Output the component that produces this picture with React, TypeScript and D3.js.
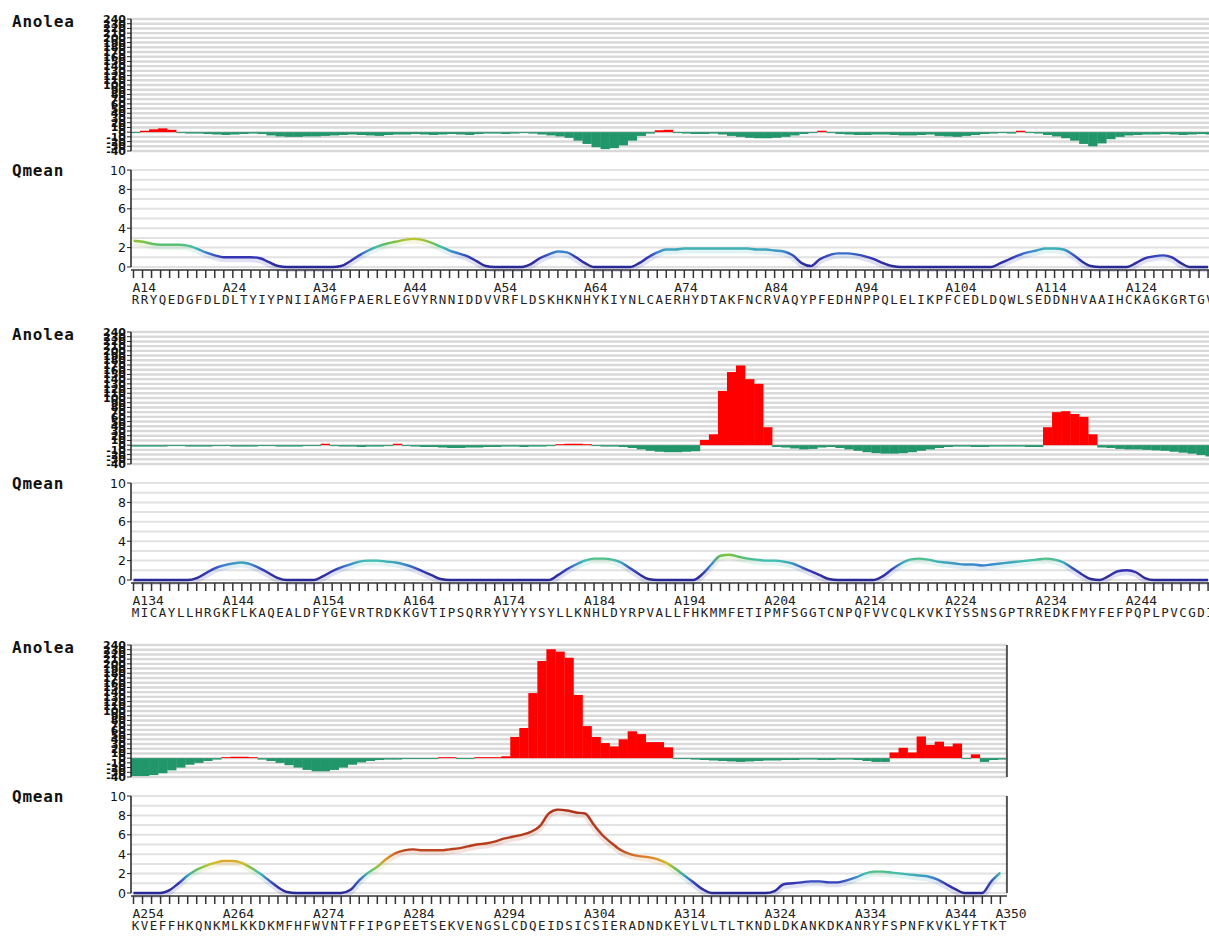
import * as d3 from 'd3';
import React, { useEffect, useRef } from 'react';

// residue number of the first position in each row
const rowStarts = [14, 134, 254];

const seqRow1 = 'RRYQEDGFDLDLTYIYPNIIAMGFPAERLEGVYRNNIDDVVRFLDSKHKNHYKIYNLCAERHYDTAKFNCRVAQYPFEDHNPPQLELIKPFCEDLDQWLSEDDNHVAAIHCKAGKGRTGV';
const seqRow2 = 'MICAYLLHRGKFLKAQEALDFYGEVRTRDKKGVTIPSQRRYVYYYSYLLKNHLDYRPVALLFHKMMFETIPMFSGGTCNPQFVVCQLKVKIYSSNSGPTRREDKFMYFEFPQPLPVCGDI';
const seqRow3 = 'KVEFFHKQNKMLKKDKMFHFWVNTFFIPGPEETSEKVENGSLCDQEIDSICSIERADNDKEYLVLTLTKNDLDKANKDKANRYFSPNFKVKLYFTKT';

// Anolea energy per residue
const anoleaRow1 = [
  -2, 3, 6, 8, 5, -2, -3, -3, -4, -5,
  -6, -5, -4, -3, -4, -7, -9, -10, -10, -9,
  -9, -8, -7, -6, -5, -6, -7, -8, -6, -5,
  -5, -4, -5, -6, -5, -4, -5, -6, -4, -3,
  -3, -4, -3, -2, -3, -5, -7, -9, -12, -18,
  -25, -32, -36, -34, -28, -18, -8, -3, 4, 5,
  -2, -3, -4, -4, -3, -5, -8, -10, -12, -13,
  -13, -12, -10, -7, -4, -2, 3, -2, -4, -5,
  -6, -6, -5, -5, -6, -7, -7, -6, -5, -8,
  -9, -10, -8, -6, -4, -3, -2, -3, 3, -2,
  -3, -6, -9, -13, -18, -25, -30, -24, -15, -10,
  -7, -6, -5, -5, -4, -5, -6, -5, -4, -5,
];
const anoleaRow2 = [
  -3, -3, -3, -3, -2, -2, -3, -3, -3, -2,
  -2, -3, -3, -3, -2, -2, -3, -3, -3, -2,
  -2, 3, -2, -3, -3, -4, -3, -3, -2, 3,
  -2, -3, -4, -4, -5, -6, -6, -5, -5, -4,
  -4, -3, -3, -4, -3, -3, -2, 2, 3, 3,
  2, -2, -3, -3, -4, -6, -9, -12, -14, -15,
  -15, -14, -13, 11, 23, 115, 155, 169, 140, 130,
  38, -4, -5, -7, -9, -8, -5, -4, -6, -9,
  -12, -15, -17, -18, -18, -17, -15, -12, -9, -6,
  -4, -3, -3, -4, -4, -3, -3, -3, -3, -4,
  -4, 38, 70, 72, 66, 60, 23, -5, -6, -8,
  -9, -9, -10, -11, -12, -14, -16, -18, -21, -24,
];
const anoleaRow3 = [
  -38, -38, -36, -32, -26, -20, -14, -10, -6, -3,
  2, 3, 3, 2, -3, -6, -10, -15, -20, -25,
  -28, -28, -25, -20, -14, -9, -6, -4, -3, -3,
  -2, -2, -2, -2, 2, 2, -2, -2, 2, 2,
  2, 4, 45, 64, 138, 206, 231, 226, 213, 134,
  68, 45, 32, 25, 40, 57, 51, 34, 34, 23,
  -2, -2, -3, -4, -5, -6, -7, -8, -7, -6,
  -5, -5, -4, -4, -3, -3, -4, -4, -3, -3,
  -4, -6, -8, -8, 12, 22, 12, 46, 28, 35,
  25, 31, -2, 8, -8, -4, -3,
];

// QMEAN local score per residue
const qmeanRow1 = [
  2.7, 2.6, 2.4, 2.3, 2.3, 2.3, 2.2, 1.9, 1.5, 1.2,
  1.0, 1.0, 1.0, 1.0, 0.9, 0.5, 0.1, 0, 0, 0,
  0, 0, 0, 0.1, 0.6, 1.2, 1.7, 2.1, 2.4, 2.6,
  2.8, 2.9, 2.8, 2.5, 2.1, 1.7, 1.4, 1.1, 0.6, 0.1,
  0, 0, 0, 0, 0.3, 0.9, 1.3, 1.6, 1.5, 1.0,
  0.4, 0, 0, 0, 0, 0, 0.4, 1.0, 1.5, 1.8,
  1.8, 1.9, 1.9, 1.9, 1.9, 1.9, 1.9, 1.9, 1.9, 1.8,
  1.8, 1.7, 1.6, 1.2, 0.4, 0.1, 0.8, 1.2, 1.4, 1.4,
  1.3, 1.1, 0.8, 0.4, 0.1, 0, 0, 0, 0, 0,
  0, 0, 0, 0, 0, 0, 0.4, 0.8, 1.2, 1.5,
  1.7, 1.9, 1.9, 1.8, 1.3, 0.6, 0.1, 0, 0, 0,
  0, 0.4, 0.9, 1.1, 1.2, 1.0, 0.4, 0, 0, 0,
];
const qmeanRow2 = [
  0, 0, 0, 0, 0, 0, 0, 0.2, 0.7, 1.2,
  1.5, 1.7, 1.8, 1.6, 1.2, 0.7, 0.2, 0, 0, 0,
  0, 0.4, 0.9, 1.3, 1.6, 1.9, 2.0, 2.0, 1.9, 1.8,
  1.6, 1.3, 0.9, 0.5, 0.1, 0, 0, 0, 0, 0,
  0, 0, 0, 0, 0, 0, 0, 0.5, 1.1, 1.6,
  2.0, 2.2, 2.2, 2.1, 1.8, 1.2, 0.6, 0.1, 0, 0,
  0, 0, 0, 0.6, 1.6, 2.5, 2.6, 2.4, 2.2, 2.1,
  2.0, 2.0, 1.9, 1.7, 1.3, 0.9, 0.5, 0.1, 0, 0,
  0, 0, 0, 0.4, 1.1, 1.7, 2.1, 2.2, 2.1, 1.9,
  1.8, 1.7, 1.6, 1.6, 1.5, 1.6, 1.7, 1.8, 1.9, 2.0,
  2.1, 2.2, 2.1, 1.8, 1.2, 0.6, 0.1, 0, 0.4, 0.9,
  1.0, 0.8, 0.2, 0, 0, 0, 0, 0, 0, 0,
];
const qmeanRow3 = [
  0, 0, 0, 0, 0.3, 1.0, 1.8, 2.4, 2.8, 3.1,
  3.3, 3.3, 3.1, 2.6, 2.0, 1.3, 0.6, 0.1, 0, 0,
  0, 0, 0, 0, 0.3, 1.3, 2.1, 2.7, 3.5, 4.1,
  4.4, 4.5, 4.4, 4.4, 4.4, 4.5, 4.6, 4.8, 5.0, 5.1,
  5.3, 5.6, 5.8, 6.0, 6.3, 6.9, 8.2, 8.6, 8.5, 8.3,
  8.2, 7.0, 5.9, 5.1, 4.4, 4.0, 3.8, 3.7, 3.5, 3.1,
  2.5, 1.8, 1.1, 0.4, 0, 0, 0, 0, 0, 0,
  0, 0.2, 0.9, 1.0, 1.1, 1.2, 1.2, 1.1, 1.1, 1.3,
  1.6, 2.0, 2.2, 2.2, 2.1, 2.0, 1.9, 1.8, 1.7, 1.4,
  0.9, 0.4, 0, 0, 0, 1.2, 2.1,
];

const anoleaTicks = [240, 230, 220, 210, 200, 190, 180, 170, 160, 150, 140, 130, 120, 110, 100, 90, 80, 70, 60, 50, 40, 30, 20, 10, 0, -10, -20, -30, -40];
const qmeanTicks = [0, 2, 4, 6, 8, 10];
const qmeanGrid = [0, 1, 2, 3, 4, 5, 6, 7, 8, 9, 10];

const rows = [
  { start: rowStarts[0], seq: seqRow1, anolea: anoleaRow1, qmean: qmeanRow1 },
  { start: rowStarts[1], seq: seqRow2, anolea: anoleaRow2, qmean: qmeanRow2 },
  { start: rowStarts[2], seq: seqRow3, anolea: anoleaRow3, qmean: qmeanRow3 },
];

export default function App() {
  const ref = useRef<SVGSVGElement>(null);

  useEffect(() => {
    document.body.style.margin = '0';
    const svg = d3.select(ref.current);
    svg.selectAll('*').remove();

    const step = 9.03;
    const left = 131;
    const rowGap = 313;
    const mono = '"DejaVu Sans Mono", monospace';

    const color = d3.scaleLinear<string>()
      .domain([0, 1, 1.5, 2, 2.5, 3, 3.6, 4.5, 10])
      .range(['#2a2a96', '#3434b4', '#3d7fd0', '#3fbfb0', '#6cc04a', '#d4c62a', '#e08a2a', '#b8401f', '#a8301a']);

    const defs = svg.append('defs');

    rows.forEach((row, r) => {
      const g = svg.append('g').attr('transform', `translate(0,${r * rowGap})`);
      const n = row.seq.length;
      const x = d3.scaleLinear().domain([0, n]).range([left, left + n * step]);
      const px = (i: number) => x(i) + 2.5;
      const right = x(n);
      const yA = d3.scaleLinear().domain([-40, 240]).range([151, 19]);
      const yQ = d3.scaleLinear().domain([0, 10]).range([267, 170]);

      // ---- Anolea ----
      g.append('g').selectAll('line').data(anoleaTicks).join('line')
        .attr('x1', left).attr('x2', right)
        .attr('y1', d => yA(d)).attr('y2', d => yA(d))
        .attr('stroke', '#d9d9d9').attr('stroke-width', 2.4);

      g.append('g').selectAll('rect').data(row.anolea).join('rect')
        .attr('x', (d, i) => x(i))
        .attr('width', step + 0.3)
        .attr('y', d => (d > 0 ? yA(d) : yA(0)))
        .attr('height', d => Math.abs(yA(d) - yA(0)))
        .attr('fill', d => (d > 0 ? '#ff0000' : '#22966b'));

      g.append('line').attr('x1', left).attr('x2', left)
        .attr('y1', yA(240)).attr('y2', yA(-40))
        .attr('stroke', '#222').attr('stroke-width', 1.5);
      g.append('line').attr('x1', right).attr('x2', right)
        .attr('y1', yA(240)).attr('y2', yA(-40))
        .attr('stroke', '#555').attr('stroke-width', 2);

      const at = g.append('g');
      at.selectAll('line').data(anoleaTicks).join('line')
        .attr('x1', left - 4).attr('x2', left)
        .attr('y1', d => yA(d)).attr('y2', d => yA(d))
        .attr('stroke', '#222');
      at.selectAll('text').data(anoleaTicks).join('text')
        .attr('x', left - 5).attr('y', d => yA(d) + 4)
        .attr('text-anchor', 'end')
        .attr('font-family', '"DejaVu Sans", sans-serif')
        .attr('font-size', 11)
        .attr('font-weight', 'bold')
        .attr('fill', '#111')
        .text(d => d);

      g.append('text').attr('x', 12).attr('y', 27)
        .attr('font-family', mono).attr('font-weight', 'bold').attr('font-size', 16)
        .attr('letter-spacing', 0.8)
        .attr('fill', '#111').text('Anolea');

      // ---- Qmean ----
      g.append('g').selectAll('line').data(qmeanGrid).join('line')
        .attr('x1', left).attr('x2', right)
        .attr('y1', d => yQ(d)).attr('y2', d => yQ(d))
        .attr('stroke', '#e2e2e2').attr('stroke-width', 2);

      const gid = `qgrad${r}`;
      const grad = defs.append('linearGradient').attr('id', gid)
        .attr('gradientUnits', 'userSpaceOnUse')
        .attr('x1', px(0)).attr('x2', px(n - 1)).attr('y1', 0).attr('y2', 0);
      grad.selectAll('stop').data(row.qmean).join('stop')
        .attr('offset', (d, i) => (px(i) - px(0)) / (px(n - 1) - px(0)))
        .attr('stop-color', d => color(d));

      const line = d3.line<number>()
        .x((d, i) => px(i))
        .y(d => yQ(d))
        .curve(d3.curveMonotoneX);

      g.append('path').attr('d', line(row.qmean))
        .attr('fill', 'none').attr('stroke', `url(#${gid})`)
        .attr('stroke-width', 6).attr('opacity', 0.15)
        .attr('transform', 'translate(0,2)');
      g.append('path').attr('d', line(row.qmean))
        .attr('fill', 'none').attr('stroke', `url(#${gid})`)
        .attr('stroke-width', 2.4);

      g.append('line').attr('x1', left).attr('x2', left)
        .attr('y1', yQ(10)).attr('y2', yQ(0))
        .attr('stroke', '#222').attr('stroke-width', 1.5);
      g.append('line').attr('x1', right).attr('x2', right)
        .attr('y1', yQ(10)).attr('y2', yQ(0))
        .attr('stroke', '#555').attr('stroke-width', 2);

      const qt = g.append('g');
      qt.selectAll('line').data(qmeanTicks).join('line')
        .attr('x1', left - 4).attr('x2', left)
        .attr('y1', d => yQ(d)).attr('y2', d => yQ(d))
        .attr('stroke', '#222');
      qt.selectAll('text').data(qmeanTicks).join('text')
        .attr('x', left - 5).attr('y', d => yQ(d) + 4.5)
        .attr('text-anchor', 'end')
        .attr('font-family', '"DejaVu Sans", sans-serif')
        .attr('font-size', 12.5)
        .attr('fill', '#111')
        .text(d => d);

      g.append('text').attr('x', 12).attr('y', 176)
        .attr('font-family', mono).attr('font-weight', 'bold').attr('font-size', 16)
        .attr('letter-spacing', 0.8)
        .attr('fill', '#111').text('Qmean');

      // ---- residue axis ----
      g.append('line').attr('x1', left).attr('x2', right)
        .attr('y1', 270).attr('y2', 270)
        .attr('stroke', '#333').attr('stroke-width', 1.5);
      g.append('g').selectAll('line').data(d3.range(n)).join('line')
        .attr('x1', i => px(i)).attr('x2', i => px(i))
        .attr('y1', 270).attr('y2', 278)
        .attr('stroke', '#333').attr('stroke-width', 1.5);

      const labelIdx = d3.range(0, n, 10);
      if (r === 2) labelIdx.push(n - 1);
      g.append('g').selectAll('text').data(labelIdx).join('text')
        .attr('x', i => (i === n - 1 && r === 2 ? px(i) - 5 : px(i) - 1))
        .attr('y', 292)
        .attr('font-family', mono).attr('font-size', 13)
        .attr('fill', '#222')
        .text(i => `A${row.start + i}`);

      g.append('g').selectAll('text').data(row.seq.split('')).join('text')
        .attr('x', (d, i) => x(i) + step / 2)
        .attr('y', 304)
        .attr('text-anchor', 'middle')
        .attr('font-family', mono).attr('font-size', 12.5)
        .attr('fill', '#222')
        .text(d => d);
    });
  }, []);

  return <svg ref={ref} width={1209} height={944} style={{ display: 'block', background: '#fff' }} />;
}
